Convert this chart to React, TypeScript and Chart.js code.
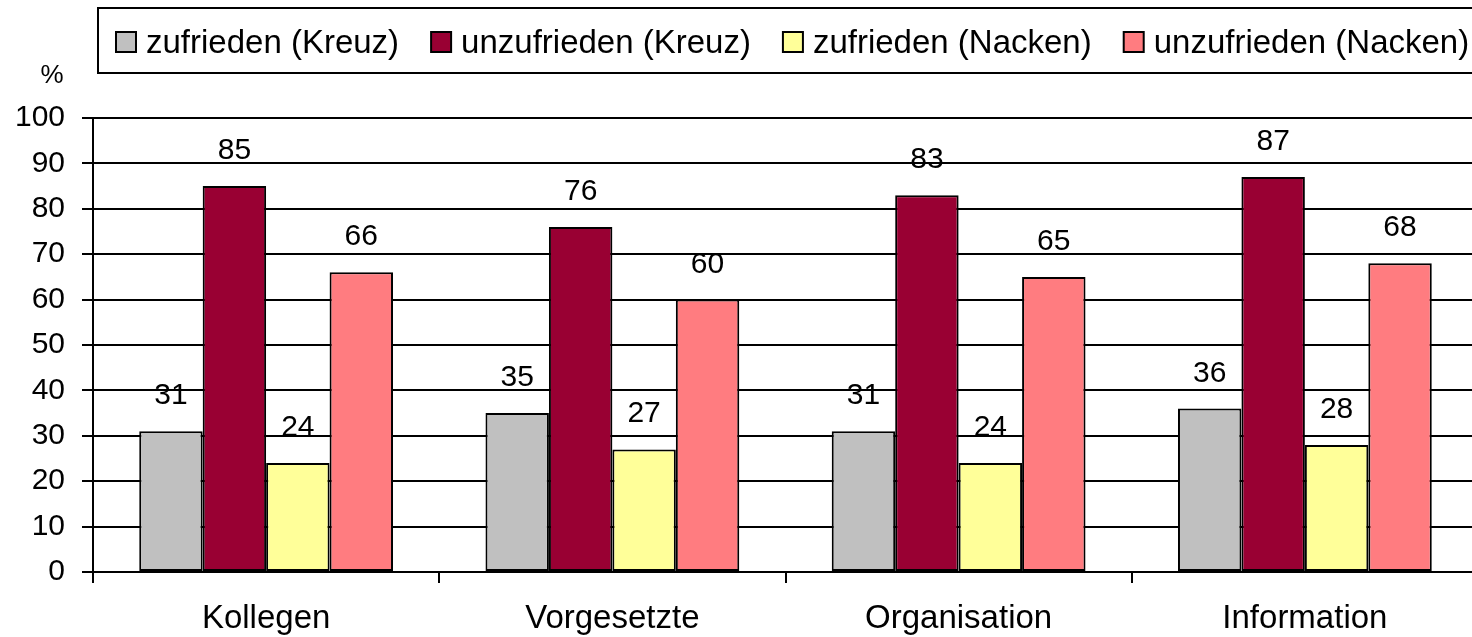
import React, { useEffect, useRef } from "react";
import { Chart, registerables } from "chart.js";

Chart.register(...registerables);

const categories = ["Kollegen", "Vorgesetzte", "Organisation", "Information"];
const seriesLabels = [
  "zufrieden (Kreuz)",
  "unzufrieden (Kreuz)",
  "zufrieden (Nacken)",
  "unzufrieden (Nacken)",
];
const zufriedenKreuz = [31, 35, 31, 36];
const unzufriedenKreuz = [85, 76, 83, 87];
const zufriedenNacken = [24, 27, 24, 28];
const unzufriedenNacken = [66, 60, 65, 68];
const seriesColors = ["#C0C0C0", "#990033", "#FFFF99", "#FF7C80"];
const yMin = 0;
const yMax = 100;
const yStep = 10;
const unitLabel = "%";

const FONT = '"Liberation Sans", Arial, Helvetica, sans-serif';

const overlayPlugin = {
  id: "overlay",
  afterDatasetsDraw(chart: any) {
    const ctx = chart.ctx;
    ctx.save();
    ctx.font = `30px ${FONT}`;
    ctx.fillStyle = "#000";
    ctx.textAlign = "center";
    ctx.textBaseline = "alphabetic";
    chart.data.datasets.forEach((ds: any, i: number) => {
      const meta = chart.getDatasetMeta(i);
      meta.data.forEach((el: any, j: number) => {
        ctx.fillText(String(ds.data[j]), el.x, el.y - 27);
      });
    });
    ctx.restore();
  },
  afterDraw(chart: any) {
    const ctx = chart.ctx;
    ctx.save();
    // unit label
    ctx.font = `26px ${FONT}`;
    ctx.fillStyle = "#000";
    ctx.textAlign = "center";
    ctx.textBaseline = "middle";
    ctx.fillText(unitLabel, 52, 76);

    // legend box
    ctx.lineWidth = 2;
    ctx.strokeStyle = "#000";
    ctx.strokeRect(98, 8, chart.width + 20, 65);

    // legend items
    ctx.font = `33px ${FONT}`;
    ctx.textAlign = "left";
    ctx.textBaseline = "alphabetic";
    let x = 116;
    chart.data.datasets.forEach((ds: any) => {
      ctx.fillStyle = ds.backgroundColor;
      ctx.fillRect(x, 32, 20, 20);
      ctx.strokeRect(x, 32, 20, 20);
      ctx.fillStyle = "#000";
      ctx.fillText(ds.label, x + 30, 53);
      const w = ctx.measureText(ds.label).width;
      x = x + 30 + w + 32;
    });
    ctx.restore();
  },
};

export default function App() {
  const canvasRef = useRef<HTMLCanvasElement | null>(null);

  useEffect(() => {
    const canvas = canvasRef.current;
    if (!canvas) return;
    const seriesValues = [zufriedenKreuz, unzufriedenKreuz, zufriedenNacken, unzufriedenNacken];
    const chart = new Chart(canvas, {
      type: "bar",
      data: {
        labels: categories,
        datasets: seriesValues.map((vals, i) => ({
          label: seriesLabels[i],
          data: vals,
          backgroundColor: seriesColors[i],
          borderColor: "#000",
          borderWidth: 2,
          borderSkipped: false,
          barPercentage: 1,
          categoryPercentage: 0.733,
        })),
      },
      options: {
        responsive: false,
        animation: false,
        events: [],
        layout: { padding: { top: 118, right: 2, bottom: 0, left: 0 } },
        plugins: {
          legend: { display: false },
          title: { display: false },
          tooltip: { enabled: false },
        },
        scales: {
          x: {
            type: "category",
            offset: true,
            afterFit: (scale: any) => {
              scale.height = 65;
            },
            grid: {
              offset: true,
              drawOnChartArea: false,
              drawTicks: true,
              tickLength: 11,
              color: "#000",
              lineWidth: 2,
            },
            border: { display: true, color: "#000", width: 2 },
            ticks: {
              color: "#000",
              font: { family: FONT, size: 33 },
              padding: 16,
              maxRotation: 0,
              autoSkip: false,
            },
          },
          y: {
            min: yMin,
            max: yMax,
            afterFit: (scale: any) => {
              scale.width = 93;
            },
            grid: {
              color: "#000",
              lineWidth: 2,
              drawTicks: true,
              tickLength: 11,
            },
            border: { display: true, color: "#000", width: 2 },
            ticks: {
              stepSize: yStep,
              color: "#000",
              font: { family: FONT, size: 30 },
              padding: 17,
            },
          },
        },
      },
      plugins: [overlayPlugin],
    });
    return () => chart.destroy();
  }, []);

  return (
    <div
      style={{
        position: "fixed",
        left: 0,
        top: 0,
        width: 1472,
        height: 637,
        overflow: "hidden",
        background: "#fff",
      }}
    >
      <canvas ref={canvasRef} width={1480} height={637} style={{ display: "block" }} />
    </div>
  );
}
